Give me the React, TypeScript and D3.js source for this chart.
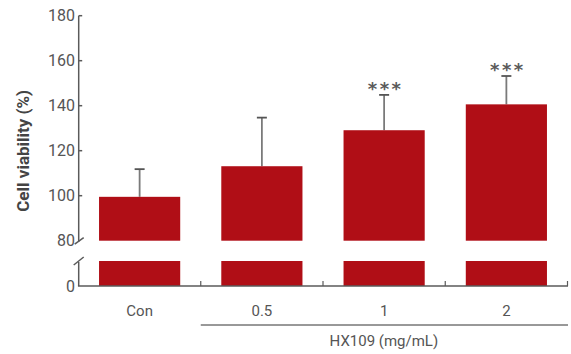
import * as d3 from "d3";

const categories = ["Con", "0.5", "1", "2"];
const means = [99.5, 113.1, 129.1, 140.6];
const errors = [12.3, 21.6, 15.7, 12.6];
const marks = ["", "", "***", "***"];
const upperTicks = [80, 100, 120, 140, 160, 180];
const lowerTicks = [0];

const barColor = "#b00e16";
const axisColor = "#5a5a5a";
const textColor = "#555";
const font = "Roboto, 'Liberation Sans', sans-serif";

function App() {
  const width = 571;
  const height = 354;
  const axisX = 78.7;
  const baseY = 286;

  const x = d3
    .scaleBand<string>()
    .domain(categories)
    .range([78.5, 567.5])
    .paddingInner(0.336)
    .paddingOuter(0.168);

  const yUp = d3.scaleLinear().domain([80, 180]).range([240.7, 15.7]);
  const yLow = d3.scaleLinear().domain([0, 10]).range([baseY, 261]);

  const step = x.step();
  const groupStart = (x("0.5") ?? 0) - (step - x.bandwidth()) / 2;
  const groupEnd = 567;

  return (
    <svg width={width} height={height} style={{ position: "absolute", left: 0, top: 0 }}>
      <rect width={width} height={height} fill="#fff" />

      {categories.map((c, i) => {
        const bx = x(c) ?? 0;
        const cx = bx + x.bandwidth() / 2;
        const top = yUp(means[i]);
        const capY = yUp(means[i] + errors[i]);
        return (
          <g key={c}>
            <line x1={cx} x2={cx} y1={top} y2={capY} stroke="#7a7a7a" strokeWidth={1.8} />
            <line x1={cx - 5} x2={cx + 5} y1={capY} y2={capY} stroke="#555" strokeWidth={1.8} />
            <rect x={bx} y={top} width={x.bandwidth()} height={yUp(80) - top} fill={barColor} />
            <rect x={bx} y={yLow(10)} width={x.bandwidth()} height={baseY - yLow(10)} fill={barColor} />
            {marks[i] && (
              <text
                x={cx + 1.5}
                y={capY}
                textAnchor="middle"
                fontFamily="'DejaVu Sans', sans-serif"
                fontSize={18}
                fontWeight="bold"
                letterSpacing={2.5}
                fill="#5a5a5a"
              >
                {marks[i]}
              </text>
            )}
            <text x={cx} y={316} textAnchor="middle" fontFamily={font} fontSize={15} fill={textColor}>
              {c}
            </text>
          </g>
        );
      })}

      {/* y axis, upper segment */}
      <line x1={axisX} x2={axisX} y1={yUp(180)} y2={yUp(80) + 1} stroke={axisColor} strokeWidth={1.5} />
      {upperTicks.map((t) => (
        <g key={`u-${t}`} transform={`translate(0,${yUp(t)})`}>
          {t !== 80 && <line x1={axisX} x2={axisX + 3.5} stroke={axisColor} strokeWidth={1.5} />}
          <text x={75} y={5.5} textAnchor="end" fontFamily={font} fontSize={16} fill={textColor}>
            {t}
          </text>
        </g>
      ))}
      <line x1={axisX - 4} x2={axisX + 5} y1={yUp(80) + 3.5} y2={yUp(80) - 3} stroke={axisColor} strokeWidth={1.5} />

      {/* y axis, lower segment */}
      <line x1={axisX} x2={axisX} y1={yLow(10) + 1} y2={baseY} stroke={axisColor} strokeWidth={1.5} />
      <line x1={axisX - 5} x2={axisX + 5} y1={yLow(10) + 4} y2={yLow(10) - 4} stroke={axisColor} strokeWidth={1.5} />
      {lowerTicks.map((t) => (
        <text key={`l-${t}`} x={75} y={yLow(t) + 5.5} textAnchor="end" fontFamily={font} fontSize={16} fill={textColor}>
          {t}
        </text>
      ))}

      {/* x axis */}
      <line x1={axisX - 0.75} x2={groupEnd + 1} y1={baseY} y2={baseY} stroke={axisColor} strokeWidth={1.5} />
      {categories.map((c) => {
        const sep = (x(c) ?? 0) + x.bandwidth() + (step - x.bandwidth()) / 2;
        return <line key={`s-${c}`} x1={sep} x2={sep} y1={baseY} y2={baseY - 5} stroke={axisColor} strokeWidth={1.2} />;
      })}

      {/* group bracket */}
      <line x1={groupStart} x2={groupEnd + 1} y1={325} y2={325} stroke="#333" strokeWidth={1} />
      <text x={(groupStart + groupEnd) / 2} y={346} textAnchor="middle" fontFamily={font} fontSize={15} fill={textColor}>
        HX109 (mg/mL)
      </text>

      <text
        transform={`translate(29,${(yUp(180) + baseY) / 2}) rotate(-90)`}
        textAnchor="middle"
        fontFamily={font}
        fontSize={17}
        fontWeight="bold"
        fill="#444"
      >
        Cell viability (%)
      </text>
    </svg>
  );
}

export default App;
